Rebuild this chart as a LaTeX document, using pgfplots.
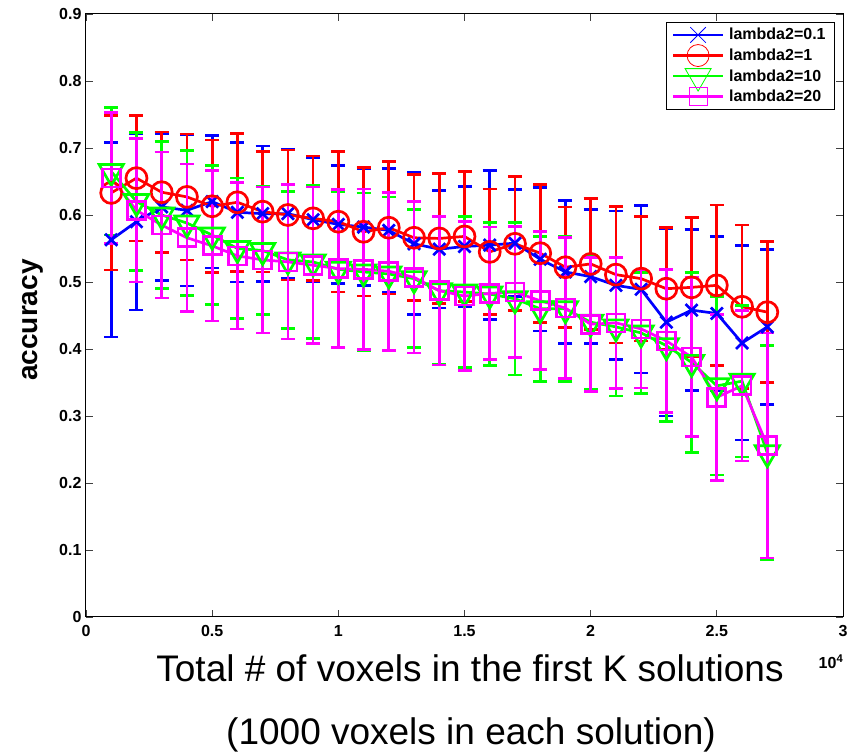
\documentclass[border=0pt]{standalone}
\usepackage{fontspec}
\setmainfont{Liberation Sans}
\usepackage{pgfplots}
\pgfplotsset{compat=1.18}
\usepackage{pgfplotstable}

% mean accuracy and its spread for each lambda2 setting
% b: 0.1, r: 1, g: 10, m: 20
\pgfplotstableread{
x      b      be     r      re     g      ge     m      me
1000   0.563  0.145  0.633  0.115  0.665  0.095  0.655  0.098
2000   0.590  0.132  0.655  0.094  0.620  0.103  0.607  0.107
3000   0.612  0.110  0.634  0.090  0.600  0.110  0.585  0.109
4000   0.607  0.113  0.627  0.094  0.588  0.108  0.566  0.110
5000   0.620  0.099  0.613  0.099  0.570  0.104  0.554  0.112
6000   0.604  0.104  0.619  0.103  0.550  0.105  0.539  0.109
7000   0.602  0.101  0.605  0.090  0.547  0.096  0.533  0.109
8000   0.602  0.096  0.600  0.097  0.533  0.102  0.530  0.115
9000   0.593  0.093  0.595  0.093  0.530  0.114  0.525  0.117
10000  0.586  0.088  0.590  0.105  0.519  0.116  0.520  0.118
11000  0.582  0.087  0.575  0.096  0.515  0.118  0.519  0.120
12000  0.577  0.092  0.581  0.099  0.512  0.115  0.516  0.118
13000  0.557  0.106  0.566  0.094  0.505  0.103  0.507  0.113
14000  0.549  0.088  0.565  0.097  0.487  0.110  0.487  0.111
15000  0.553  0.090  0.568  0.097  0.485  0.113  0.479  0.111
16000  0.555  0.111  0.545  0.094  0.482  0.107  0.483  0.099
17000  0.558  0.080  0.557  0.100  0.475  0.114  0.485  0.098
18000  0.534  0.107  0.543  0.103  0.460  0.108  0.472  0.103
19000  0.515  0.107  0.522  0.090  0.460  0.108  0.461  0.105
20000  0.508  0.100  0.527  0.098  0.440  0.100  0.437  0.100
21000  0.495  0.111  0.511  0.102  0.433  0.103  0.439  0.098
22000  0.489  0.125  0.505  0.093  0.424  0.090  0.430  0.088
23000  0.440  0.140  0.490  0.091  0.405  0.113  0.412  0.107
24000  0.458  0.120  0.492  0.104  0.380  0.134  0.388  0.119
25000  0.453  0.115  0.495  0.120  0.345  0.133  0.328  0.124
26000  0.409  0.145  0.463  0.122  0.352  0.113  0.345  0.112
27000  0.433  0.116  0.455  0.105  0.245  0.160  0.256  0.168
}\acc

\definecolor{mblue}{rgb}{0,0,1}
\definecolor{mred}{rgb}{1,0,0}
\definecolor{mgreen}{rgb}{0,1,0}
\definecolor{mmagenta}{rgb}{1,0,1}

\pgfplotsset{
  errstyle/.style={
    error bars/.cd, y dir=both, y explicit,
    error bar style={line width=2.7pt},
    error mark options={rotate=90, mark size=7pt, line width=2.7pt}
  }
}

\begin{document}
\begin{tikzpicture}
\useasboundingbox (-86pt,-135pt) rectangle (768pt,617pt);
\begin{axis}[
  at={(0pt,0pt)}, anchor=south west,
  width=757pt, height=603pt, scale only axis,
  xmin=0, xmax=30000, ymin=0, ymax=0.9,
  scaled x ticks=false, scaled y ticks=false,
  xtick={0,5000,10000,15000,20000,25000,30000},
  xticklabels={0,0.5,1,1.5,2,2.5,3},
  ytick={0,0.1,0.2,0.3,0.4,0.5,0.6,0.7,0.8,0.9},
  yticklabels={0,0.1,0.2,0.3,0.4,0.5,0.6,0.7,0.8,0.9},
  xtick pos=both, ytick pos=both,
  xticklabel pos=lower, yticklabel pos=left,
  tick align=inside, major tick length=7pt,
  tick style={line width=0.8pt, black!75},
  axis line style={line width=1pt, black},
  ticklabel style={font=\fontsize{16}{18}\selectfont\bfseries},
  /pgf/number format/assume math mode=true,
  xticklabel style={yshift=-5pt},
  yticklabel style={xshift=-1pt},
  clip=false,
  legend style={at={(1,1)}, anchor=north east, xshift=-8pt, yshift=-8pt,
    draw=black, line width=0.8pt, fill=white,
    font=\fontsize{16}{18}\selectfont\bfseries,
    inner xsep=7pt, inner ysep=4pt, row sep=3.5pt,
    /tikz/every odd column/.append style={column sep=4pt},
    cells={anchor=west}},
  legend cell align=left,
  legend image code/.code={
    \path[draw=none, fill=none] (0pt,-4pt) rectangle (50pt,4pt);
    \draw[overlay, mark repeat=2, mark phase=2]
      plot coordinates {(0pt,0pt) (25pt,0pt) (50pt,0pt)};
  },
]
\addplot[mblue, line width=2.7pt, mark=x, mark size=8.5pt,
  mark options={line width=2.7pt}, forget plot, errstyle]
  table[x=x, y=b, y error=be] {\acc};
\addplot[mred, line width=2.7pt, mark=o, mark size=10.5pt,
  mark options={line width=2.7pt}, forget plot, errstyle]
  table[x=x, y=r, y error=re] {\acc};
\addplot[mgreen, line width=2.7pt, mark=triangle, mark size=14pt,
  mark options={line width=2.7pt, rotate=180}, forget plot, errstyle]
  table[x=x, y=g, y error=ge] {\acc};
\addplot[mmagenta, line width=2.7pt, mark=square, mark size=9pt,
  mark options={line width=2.7pt}, forget plot, errstyle]
  table[x=x, y=m, y error=me] {\acc};

\addlegendimage{mblue, line width=2.7pt, mark=x, mark size=11pt, mark options={line width=0.8pt}}
\addlegendentry{lambda2=0.1}
\addlegendimage{mred, line width=2.7pt, mark=o, mark size=11pt, mark options={line width=0.8pt}}
\addlegendentry{lambda2=1}
\addlegendimage{mgreen, line width=2.7pt, mark=triangle, mark size=15pt, mark options={line width=0.8pt, rotate=180}}
\addlegendentry{lambda2=10}
\addlegendimage{mmagenta, line width=2.7pt, mark=square, mark size=9pt, mark options={line width=0.8pt}}
\addlegendentry{lambda2=20}
\end{axis}

% axis titles
\node[rotate=90, font=\fontsize{28}{30}\selectfont\bfseries] at (-53pt,297pt) {accuracy};
\node[anchor=base, font=\fontsize{37}{39}\selectfont] at (384pt,-65pt) {Total \# of voxels in the first K solutions};
\node[anchor=base, font=\fontsize{37}{39}\selectfont] at (385pt,-128pt) {(1000 voxels in each solution)};
\node[font=\fontsize{16}{18}\selectfont\bfseries] at (745pt,-45pt) {10\textsuperscript{4}};
\end{tikzpicture}
\end{document}
